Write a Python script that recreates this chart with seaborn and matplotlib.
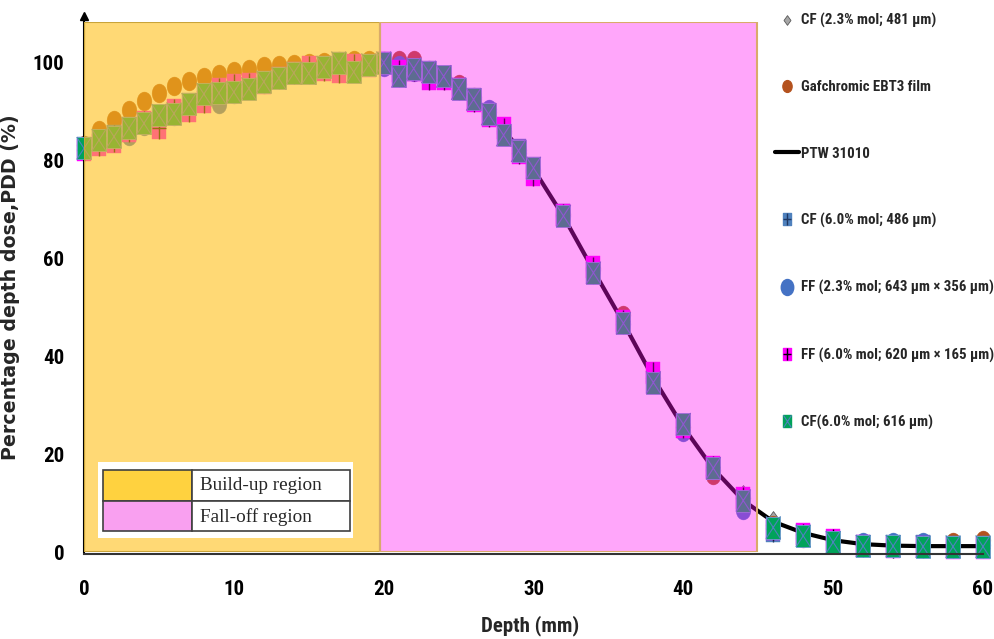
import numpy as np
import pandas as pd
import matplotlib
matplotlib.use("Agg")
import matplotlib.pyplot as plt
import seaborn as sns
from matplotlib.path import Path
from matplotlib.lines import Line2D
from matplotlib.patches import Rectangle
from matplotlib import font_manager as fm

# ---------------- data ----------------
depth = [0, 1, 2, 3, 4, 5, 6, 7, 8, 9, 10, 11, 12, 13, 14, 15, 16, 17, 18, 19, 20,
         21, 22, 23, 24, 25, 26, 27, 28, 29, 30,
         32, 34, 36, 38, 40, 42, 44,
         46, 48, 50, 52, 54, 56, 58, 60]

cf23_481 = [82.5, 83.5, 84.5, 87.5, 88.0, 89.0, 90.0, 91.0, 91.5, 92.0, 94.0, 95.0, 96.0, 97.0, 98.0, 98.5, 99.0, 99.5, 100.0, 100.0, 100.0,
            98.0, 98.5, 97.5, 96.5, 95.0, 92.5, 89.5, 85.5, 82.0, 78.0,
            68.5, 57.0, 46.5, 35.0, 25.5, 17.0, 12.0,
            6.8, 3.8, 2.2, 1.3, 1.3, 1.2, 1.2, 1.2]

ebt3 = [83.0, 86.1, 88.2, 90.3, 92.1, 93.7, 95.1, 96.2, 97.0, 97.6, 98.2, 98.7, 99.2, 99.4, 99.7, 99.9, 100.0, 100.2, 100.4, 100.5, 100.3,
        100.5, 100.5, 98.3, 97.0, 95.6, 92.8, 89.8, 86.0, 82.0, 77.5,
        69.0, 58.0, 48.4, 35.5, 25.5, 15.7, 11.0,
        5.5, 2.9, 2.5, 1.5, 1.5, 1.5, 2.0, 2.5]

ptw31010 = [82.0, 83.5, 85.0, 86.5, 88.0, 89.3, 90.5, 91.7, 92.8, 93.8, 94.7, 95.5, 96.3, 97.0, 97.6, 98.2, 98.7, 99.2, 99.6, 99.9, 100.0,
            99.6, 98.9, 97.9, 96.5, 94.8, 92.6, 89.8, 86.3, 82.4, 78.2,
            68.5, 57.5, 46.8, 35.5, 25.5, 17.0, 10.5,
            6.2, 3.9, 2.4, 1.6, 1.3, 1.2, 1.2, 1.2]

cf60_486 = [82.5, 84.0, 85.0, 86.5, 87.5, 89.0, 89.5, 91.5, 93.0, 93.5, 94.0, 94.8, 96.0, 96.8, 97.8, 97.8, 99.0, 99.8, 98.2, 99.5, 99.8,
            97.2, 98.5, 98.0, 97.0, 94.6, 92.4, 89.4, 85.2, 82.0, 78.4,
            68.8, 57.0, 46.8, 34.8, 26.0, 17.2, 10.6,
            4.3, 3.3, 2.0, 1.3, 1.2, 1.2, 1.1, 1.1]

ff23 = [82.0, 83.5, 84.5, 85.0, 87.0, 88.5, 89.0, 90.5, 91.9, 91.5, 93.5, 94.5, 95.5, 96.5, 97.5, 98.0, 98.5, 99.0, 99.5, 99.5, 99.0,
        99.5, 98.0, 97.5, 96.5, 94.5, 92.5, 90.5, 85.5, 81.4, 78.0,
        68.5, 57.5, 46.5, 35.0, 24.6, 16.8, 8.6,
        4.8, 3.5, 2.3, 2.1, 2.1, 2.0, 1.5, 1.5]

ff60 = [82.0, 83.0, 83.8, 86.0, 87.8, 86.5, 90.3, 90.0, 91.8, 94.6, 95.3, 95.5, 95.8, 96.7, 97.8, 99.0, 98.4, 98.0, 99.4, 99.3, 99.8,
        98.2, 98.3, 96.5, 96.5, 94.5, 92.0, 89.0, 86.5, 81.5, 77.0,
        68.9, 58.1, 47.2, 36.5, 25.5, 17.4, 11.0,
        4.7, 3.6, 2.4, 1.2, 1.0, 1.0, 0.9, 0.9]

cf60_616 = [82.4, 84.1, 84.8, 86.5, 87.5, 89.2, 89.5, 91.4, 93.5, 93.7, 93.9, 94.6, 96.0, 96.7, 97.8, 97.7, 99.0, 99.9, 98.0, 99.5, 99.9,
            97.1, 98.7, 98.0, 97.1, 94.6, 92.4, 89.4, 85.1, 81.9, 78.4,
            68.6, 57.0, 46.7, 34.6, 26.1, 17.1, 10.5,
            5.0, 3.3, 2.0, 1.2, 1.2, 1.1, 1.1, 1.1]

labels = ["CF (2.3% mol; 481 \u00b5m)", "Gafchromic EBT3 film", "PTW 31010",
          "CF (6.0% mol; 486 \u00b5m)", "FF (2.3% mol; 643 \u00b5m \u00d7 356 \u00b5m)",
          "FF (6.0% mol; 620 \u00b5m \u00d7 165 \u00b5m)", "CF(6.0% mol; 616 \u00b5m)"]
region_labels = ["Build-up region", "Fall-off region"]
buildup_span = [0, 19.75]
falloff_span = [19.75, 44.9]

# ---------------- style ----------------
sns.set_style("white")
avail = {f.name for f in fm.fontManager.ttflist}
narrow = None
for cand in ["Liberation Sans Narrow", "Roboto Condensed", "Open Sans Condensed"]:
    if cand in avail:
        narrow = cand
        break
if narrow is None:
    fp_main = dict(family="DejaVu Sans", stretch="condensed", weight="bold")
else:
    fp_main = dict(family=narrow, weight="bold")
serif = "Liberation Serif" if "Liberation Serif" in avail else "DejaVu Serif"

W, H = 995, 639
fig = plt.figure(figsize=(W / 100, H / 100), dpi=100)
L, R, T, B = 84, 983, 22, 552
ax = fig.add_axes([L / W, 1 - B / H, (R - L) / W, (B - T) / H])
ax.set_xlim(0, 60)
ax.set_ylim(0, 108.2)

# marker shapes (tall, as in the reference)
hw = 0.65
rect = Path([(-hw, -1), (hw, -1), (hw, 1), (-hw, 1), (-hw, -1)], closed=True)
xmark = Path([(-hw, -1), (hw, 1), (-hw, 1), (hw, -1)],
             [Path.MOVETO, Path.LINETO, Path.MOVETO, Path.LINETO])
plus = Path([(0, -1), (0, 1), (-hw, 0), (hw, 0)],
            [Path.MOVETO, Path.LINETO, Path.MOVETO, Path.LINETO])
circ = Path.unit_circle()
ell = Path(circ.vertices * np.array([0.78, 1.0]), circ.codes)
diam = Path([(0, -1), (0.72, 0), (0, 1), (-0.72, 0), (0, -1)], closed=True)

c_gray, c_grayE = "#A6A6A6", "#595959"
c_brown = "#B4521E"
c_blue_sq, c_blue_sqE = "#4F81BD", "#1F3864"
c_blue_c = "#4472C4"
c_mag = "#FF00FF"
c_green, c_greenX = "#00A35A", "#4F81BD"

S_SQ = 240
S_GREEN = 260
S_ELL = 185

def sc(y, marker, s, fc, ec, lw, z):
    sns.scatterplot(x=depth, y=y, marker=marker, s=s, color=fc, edgecolor=ec,
                    linewidth=lw, zorder=z, clip_on=False, legend=False, ax=ax)

sc(cf23_481, diam, 130, c_gray, c_grayE, 0.6, 2.0)
sc(ebt3, ell, S_ELL, c_brown, c_brown, 0.3, 2.1)
sns.lineplot(x=depth, y=ptw31010, color="black", lw=3, zorder=2.2, ax=ax, legend=False)
sc(cf60_486, rect, S_SQ, c_blue_sq, c_blue_sq, 0.3, 2.3)
ax.scatter(depth, cf60_486, marker=plus, s=S_SQ, facecolors="none", edgecolors=c_blue_sqE,
           linewidths=1.0, zorder=2.31, clip_on=False)
sc(ff23, ell, S_ELL, c_blue_c, c_blue_c, 0.3, 2.4)
sc(ff60, rect, S_SQ, c_mag, c_mag, 0.3, 2.5)
ax.scatter(depth, ff60, marker=plus, s=S_SQ, facecolors="none", edgecolors="black",
           linewidths=1.0, zorder=2.51, clip_on=False)
sc(cf60_616, rect, S_GREEN, c_green, "#6FA0D0", 0.6, 2.6)
ax.scatter(depth, cf60_616, marker=xmark, s=S_GREEN, facecolors="none", edgecolors=c_greenX,
           linewidths=0.8, zorder=2.61, clip_on=False)

# regions drawn on top, semi-transparent (as in the reference)
ax.axvspan(*buildup_span, facecolor=(1.0, 0.753, 0.098, 0.60), edgecolor="#C9A43A", lw=1.5, zorder=3)
ax.axvspan(*falloff_span, facecolor=(1.0, 0.06, 0.95, 0.37), edgecolor="#D9AA6A", lw=1.5, zorder=3.1)

# axes styling
for s in ["top", "right"]:
    ax.spines[s].set_visible(False)
ax.spines["left"].set_color("black")
ax.spines["left"].set_linewidth(1.5)
ax.spines["bottom"].set_color("#333333")
ax.spines["bottom"].set_linewidth(1.5)
ax.spines["bottom"].set_zorder(5)
ax.spines["bottom"].set_position(("outward", 1.5))
ax.set_xticks([0, 10, 20, 30, 40, 50, 60])
ax.set_yticks([0, 20, 40, 60, 80, 100])
ax.tick_params(axis="x", direction="in", length=6, width=1.2, pad=19, colors="black")
ax.tick_params(axis="y", direction="in", length=6, width=1.2, pad=14, colors="black")
for lab in ax.get_xticklabels() + ax.get_yticklabels():
    lab.set_fontproperties(fm.FontProperties(size=15, **fp_main))
ax.set_xlabel("Depth (mm)", fontproperties=fm.FontProperties(size=15, **fp_main))
ax.set_ylabel("Percentage depth dose,PDD (%)",
              fontproperties=fm.FontProperties(family="DejaVu Sans", weight="bold", size=13.7))
ax.xaxis.set_label_coords((530 - L) / (R - L), (B - 615) / (B - T))
ax.yaxis.set_label_coords((20 - L) / (R - L), 0.5)
ax.plot([0], [1.012], marker="^", ms=6, color="black", transform=ax.get_xaxis_transform(),
        clip_on=False, zorder=6)

# right legend
h = [
    Line2D([], [], ls="none", marker=diam, ms=7, mfc=c_gray, mec=c_grayE, mew=0.6),
    Line2D([], [], ls="none", marker=ell, ms=8.5, mfc=c_brown, mec=c_brown),
    Line2D([], [], color="black", lw=3),
    (Line2D([], [], ls="none", marker=rect, ms=8.5, mfc=c_blue_sq, mec=c_blue_sq),
     Line2D([], [], ls="none", marker=plus, ms=8.5, mfc="none", mec=c_blue_sqE, mew=1)),
    Line2D([], [], ls="none", marker=ell, ms=11.5, mfc=c_blue_c, mec=c_blue_c),
    (Line2D([], [], ls="none", marker=rect, ms=9, mfc=c_mag, mec=c_mag),
     Line2D([], [], ls="none", marker=plus, ms=9, mfc="none", mec="black", mew=1)),
    (Line2D([], [], ls="none", marker=rect, ms=9, mfc=c_green, mec=c_green),
     Line2D([], [], ls="none", marker=xmark, ms=9, mfc="none", mec=c_greenX, mew=0.8)),
]
fig.legend(h, labels, loc="upper left", bbox_to_anchor=(775 / W, 1 - 13 / H),
           frameon=False, prop=fm.FontProperties(size=10.7, **fp_main),
           labelspacing=3.52, handlelength=1.6, handletextpad=0.15,
           borderpad=0, borderaxespad=0)

# inset region legend (table-like box)
def fx(p): return p / W
def fy(p): return 1 - p / H
fig.add_artist(Rectangle((fx(98), fy(538)), fx(353) - fx(98), fy(462) - fy(538),
                         transform=fig.transFigure, facecolor="white", edgecolor="none", zorder=7))
cells = [((103, 470, 192, 501), "#FFD23F"), ((103, 501, 192, 531), "#F9A0F0"),
         ((192, 470, 350, 501), "white"), ((192, 501, 350, 531), "white")]
for (x0, y0, x1, y1), colr in cells:
    fig.add_artist(Rectangle((fx(x0), fy(y1)), fx(x1) - fx(x0), fy(y0) - fy(y1),
                             transform=fig.transFigure, facecolor=colr, edgecolor="#404040",
                             lw=1.2, zorder=8))
fig.text(fx(200), fy(486), region_labels[0], family=serif, size=13.8, va="center", ha="left", zorder=9)
fig.text(fx(200), fy(517), region_labels[1], family=serif, size=13.8, va="center", ha="left", zorder=9)

fig.savefig("out.png", dpi=100, facecolor="white")
